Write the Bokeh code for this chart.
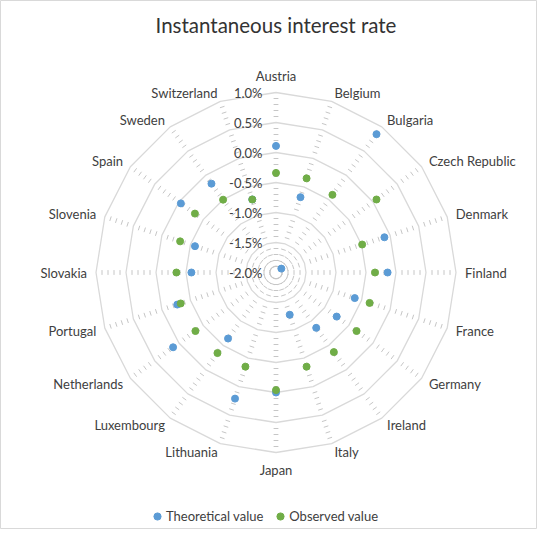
import numpy as np
from bokeh.plotting import figure
from bokeh.models import Range1d, Legend, LegendItem, ColumnDataSource
from bokeh.core.properties import value
from bokeh.embed import file_html
from bokeh.resources import INLINE

# ---------------- data ----------------
title_text = "Instantaneous interest rate"
categories = ["Austria", "Belgium", "Bulgaria", "Czech Republic", "Denmark",
              "Finland", "France", "Germany", "Ireland", "Italy", "Japan",
              "Lithuania", "Luxembourg", "Netherlands", "Portugal", "Slovakia",
              "Slovenia", "Spain", "Sweden", "Switzerland"]
theoretical = [0.11, -0.68, 0.85, -1.89, -0.10, -0.14, -0.62, -0.75, -0.86, -1.26,
               0.00, 0.21, -0.64, 0.12, -0.27, -0.59, -0.58, -0.04, -0.17, -0.72]
observed = [-0.34, -0.35, -0.40, 0.07, -0.49, -0.35, -0.36, -0.34, -0.36, -0.35,
            -0.04, -0.35, -0.34, -0.34, -0.33, -0.34, -0.32, -0.33, -0.50, -0.72]
series_names = ["Theoretical value", "Observed value"]
tick_values = [-2.0, -1.5, -1.0, -0.5, 0.0, 0.5, 1.0]
tick_labels = ["-2.0%", "-1.5%", "-1.0%", "-0.5%", "0.0%", "0.5%", "1.0%"]
minor_unit = 0.1

# ---------------- layout / style ----------------
R_MIN = tick_values[0]
PX_PER_UNIT = 60.0
W, H = 537, 529
CX, CY = 275.5, 272.0
FONT = "Lato"
GRID = "#d9d9d9"
TICK = "#c6c6c6"
TXT = "#404040"
BLUE = "#5B9BD5"
GREEN = "#70AD47"


def rad(v):
    return (np.asarray(v, dtype=float) - R_MIN) * PX_PER_UNIT


n = len(categories)
theta = np.arange(n) * 2 * np.pi / n
s, c = np.sin(theta), np.cos(theta)

p = figure(width=W, height=H, output_backend="svg", toolbar_location=None,
           x_range=Range1d(-CX, W - CX), y_range=Range1d(-(H - CY), CY),
           x_axis_location=None, y_axis_location=None, min_border=0)
p.grid.visible = False
p.outline_line_color = GRID
p.outline_line_width = 1
p.background_fill_color = "white"

# major rings (polygons)
ring_xs, ring_ys = [], []
for v in tick_values[1:]:
    r = float(rad(v))
    ring_xs.append(list(np.append(r * s, r * s[0])))
    ring_ys.append(list(np.append(r * c, r * c[0])))
p.multi_line(ring_xs, ring_ys, line_color=GRID, line_width=1.3)

# minor tick marks along each spoke
minor_vals = np.round(np.arange(R_MIN + minor_unit, tick_values[-1] + 1e-9, minor_unit), 3)
minor_vals = [m for m in minor_vals if not any(abs(m - t) < 1e-6 for t in tick_values)]
x0, y0, x1, y1 = [], [], [], []
half = 2.4
for m in minor_vals:
    r = float(rad(m))
    for si, ci in zip(s, c):
        px, py = r * si, r * ci
        x0.append(px - half * ci); y0.append(py + half * si)
        x1.append(px + half * ci); y1.append(py - half * si)
p.segment(x0, y0, x1, y1, line_color=TICK, line_width=1)

# category labels
R_LAB = float(rad(tick_values[-1])) + 9
aligns, bases = [], []
for si, ci in zip(s, c):
    if abs(si) < 1e-6:
        aligns.append("center"); bases.append("bottom" if ci > 0 else "top")
    else:
        aligns.append("left" if si > 0 else "right"); bases.append("middle")
lab_src = ColumnDataSource(dict(x=R_LAB * s, y=R_LAB * c, t=categories, a=aligns, b=bases))
p.text(x="x", y="y", text="t", source=lab_src, text_align="a", text_baseline="b",
       text_font=value(FONT), text_font_size="13px", text_color=TXT)

# radial tick labels
p.text(x=[-13.5] * len(tick_values), y=list(rad(tick_values)), text=tick_labels,
       text_align="right", text_baseline="middle",
       text_font=value(FONT), text_font_size="13px", text_color=TXT)

# data points
r_t = rad(theoretical)
r_o = rad(observed)
rt = p.scatter(r_t * s, r_t * c, size=7, fill_color=BLUE, line_color=BLUE)
ro = p.scatter(r_o * s, r_o * c, size=7, fill_color=GREEN, line_color=GREEN)

# title
p.text(x=[0], y=[280 - 32], text=[title_text], text_align="center", text_baseline="middle",
       text_font=value(FONT), text_font_size="20.5px", text_color="#333333")

legend = Legend(items=[LegendItem(label=series_names[0], renderers=[rt]),
                       LegendItem(label=series_names[1], renderers=[ro])],
                orientation="horizontal", location=(148, 4),
                glyph_width=18, glyph_height=18, label_height=18, label_standoff=0,
                spacing=8, padding=2, margin=0,
                label_text_font=FONT, label_text_font_size="13px", label_text_color=TXT,
                border_line_color=None, background_fill_alpha=0)
p.add_layout(legend)

open("out.html", "w").write(file_html(p, INLINE))
